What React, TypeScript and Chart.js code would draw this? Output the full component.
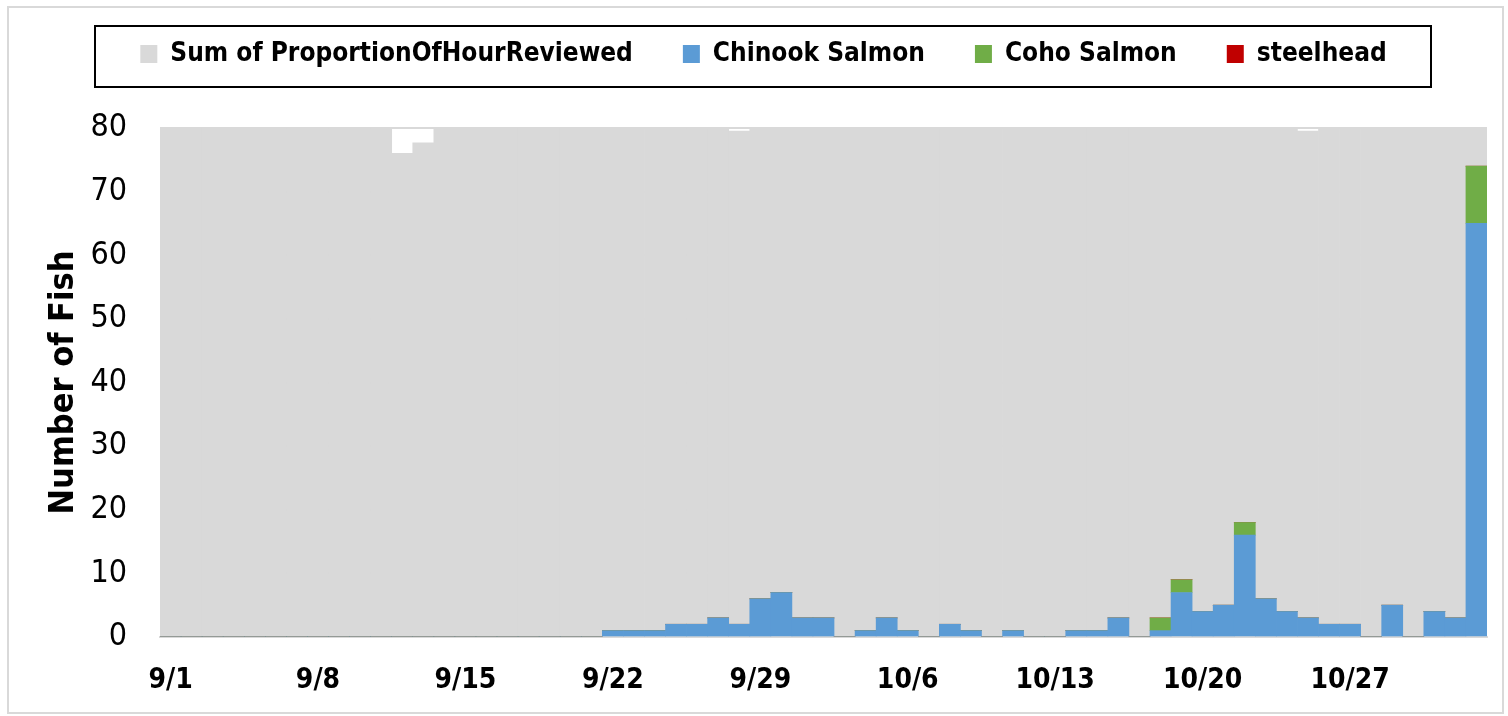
import React, { useEffect, useRef } from "react";
import { Chart, registerables } from "chart.js";

Chart.register(...registerables);

const dates = [
  "9/1", "9/2", "9/3", "9/4", "9/5", "9/6", "9/7", "9/8", "9/9", "9/10",
  "9/11", "9/12", "9/13", "9/14", "9/15", "9/16", "9/17", "9/18", "9/19", "9/20",
  "9/21", "9/22", "9/23", "9/24", "9/25", "9/26", "9/27", "9/28", "9/29", "9/30",
  "10/1", "10/2", "10/3", "10/4", "10/5", "10/6", "10/7", "10/8", "10/9", "10/10",
  "10/11", "10/12", "10/13", "10/14", "10/15", "10/16", "10/17", "10/18", "10/19", "10/20",
  "10/21", "10/22", "10/23", "10/24", "10/25", "10/26", "10/27", "10/28", "10/29", "10/30",
  "10/31", "11/1", "11/2",
];

const chinookSalmon = [
  0, 0, 0, 0, 0, 0, 0, 0, 0, 0,
  0, 0, 0, 0, 0, 0, 0, 0, 0, 0,
  0, 1, 1, 1, 2, 2, 3, 2, 6, 7,
  3, 3, 0, 1, 3, 1, 0, 2, 1, 0,
  1, 0, 0, 1, 1, 3, 0, 1, 7, 4,
  5, 16, 6, 4, 3, 2, 2, 0, 5, 0,
  4, 3, 65,
];

const cohoSalmon = [
  0, 0, 0, 0, 0, 0, 0, 0, 0, 0,
  0, 0, 0, 0, 0, 0, 0, 0, 0, 0,
  0, 0, 0, 0, 0, 0, 0, 0, 0, 0,
  0, 0, 0, 0, 0, 0, 0, 0, 0, 0,
  0, 0, 0, 0, 0, 0, 0, 2, 2, 0,
  0, 2, 0, 0, 0, 0, 0, 0, 0, 0,
  0, 0, 9,
];

const steelhead = [
  0, 0, 0, 0, 0, 0, 0, 0, 0, 0,
  0, 0, 0, 0, 0, 0, 0, 0, 0, 0,
  0, 0, 0, 0, 0, 0, 0, 0, 0, 0,
  0, 0, 0, 0, 0, 0, 0, 0, 0, 0,
  0, 0, 0, 0, 0, 0, 0, 0, 0, 0,
  0, 0, 0, 0, 0, 0, 0, 0, 0, 0,
  0, 0, 0,
];

const proportionOfHourReviewed = [
  24, 24, 24, 24, 24, 24, 24, 24, 24, 24,
  24, 22.8, 23.3, 24, 24, 24, 24, 24, 24, 24,
  24, 24, 24, 24, 24, 24, 24, 23.86, 24, 24,
  24, 24, 24, 24, 24, 24, 24, 24, 24, 24,
  24, 24, 24, 24, 24, 24, 24, 24, 24, 24,
  24, 24, 24, 24, 23.86, 24, 24, 24, 24, 24,
  24, 24, 24,
];

const yMin = 0;
const yMax = 80;
const yStep = 10;
const hoursMax = 24;
const labelEvery = 7;

const FONT = '"Liberation Sans Narrow", "DejaVu Sans Condensed", "Liberation Sans", sans-serif';

const LEGEND_EXTRA = 51;

const decorPlugin = {
  id: "decor",
  beforeLayout(chart: any) {
    const lg = chart.legend;
    if (lg && !lg.__patched) {
      const orig = lg.fit;
      lg.fit = function () {
        orig.call(this);
        this.height += LEGEND_EXTRA;
      };
      lg.__patched = true;
    }
  },
  afterDraw(chart: any) {
    const ctx = chart.ctx;
    ctx.save();
    ctx.strokeStyle = "#D9D9D9";
    ctx.lineWidth = 2;
    ctx.strokeRect(8, 7, 1495, 706);
    ctx.strokeStyle = "#000000";
    ctx.lineWidth = 2;
    ctx.strokeRect(95, 26, 1336, 61);
    ctx.restore();
  },
};

export default function App() {
  const canvasRef = useRef<HTMLCanvasElement | null>(null);

  useEffect(() => {
    if (!canvasRef.current) return;
    const chart = new Chart(canvasRef.current, {
      type: "bar",
      data: {
        labels: dates,
        datasets: [
          {
            label: "Sum of ProportionOfHourReviewed",
            data: proportionOfHourReviewed,
            backgroundColor: "#D9D9D9",
            yAxisID: "y2",
            order: 10,
            barPercentage: 1,
            categoryPercentage: 1,
          },
          {
            label: "Chinook Salmon",
            data: chinookSalmon,
            backgroundColor: "#5B9BD5",
            yAxisID: "y",
            order: 1,
            barPercentage: 1,
            categoryPercentage: 1,
          },
          {
            label: "Coho Salmon",
            data: cohoSalmon,
            backgroundColor: "#70AD47",
            yAxisID: "y",
            order: 1,
            barPercentage: 1,
            categoryPercentage: 1,
          },
          {
            label: "steelhead",
            data: steelhead,
            backgroundColor: "#C00000",
            yAxisID: "y",
            order: 1,
            barPercentage: 1,
            categoryPercentage: 1,
          },
        ],
      },
      options: {
        responsive: false,
        animation: false,
        devicePixelRatio: 1,
        layout: { padding: { top: -9, left: 40, right: 21, bottom: 0 } },
        plugins: {
          tooltip: { enabled: false },
          legend: {
            display: true,
            position: "top",
            labels: {
              font: { family: FONT, size: 26, weight: "bold" },
              color: "#000000",
              boxWidth: 17,
              boxHeight: 18,
              padding: 50,
              sort: (a: any, b: any) => a.datasetIndex - b.datasetIndex,
            },
          },
        },
        scales: {
          x: {
            stacked: true,
            grid: { display: false, drawTicks: false },
            border: { display: true, color: "#D9D9D9", width: 2 },
            ticks: {
              autoSkip: false,
              maxRotation: 0,
              minRotation: 0,
              padding: 27,
              color: "#000000",
              font: { family: FONT, size: 28, weight: "bold" },
              callback: (_v: any, i: number) => (i % labelEvery === 0 ? dates[i] : ""),
            },
            afterFit: (s: any) => {
              s.height = 79;
            },
          },
          y: {
            stacked: true,
            min: yMin,
            max: yMax,
            grid: { display: true, color: "#D9D9D9", lineWidth: 2, drawTicks: false },
            border: { display: false },
            ticks: {
              stepSize: yStep,
              padding: 33,
              color: "#000000",
              font: { family: FONT, size: 32 },
            },
            title: {
              display: true,
              text: "Number of Fish",
              color: "#000000",
              font: { family: FONT, size: 34, weight: "bold" },
            },
            afterFit: (s: any) => {
              s.width = 120;
            },
          },
          y2: {
            display: false,
            stacked: true,
            min: 0,
            max: hoursMax,
          },
        },
      },
      plugins: [decorPlugin],
    });
    return () => chart.destroy();
  }, []);

  return (
    <div style={{ position: "absolute", left: 0, top: 0, width: 1508, height: 716 }}>
      <canvas ref={canvasRef} width={1508} height={716} style={{ display: "block" }} />
    </div>
  );
}
